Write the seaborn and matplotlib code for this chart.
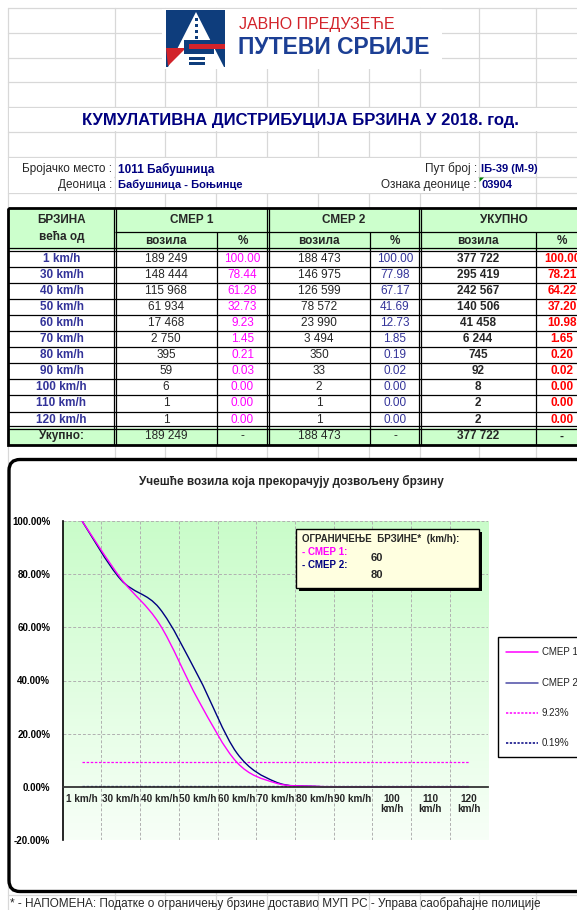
import numpy as np
import pandas as pd
import matplotlib
matplotlib.use("Agg")
import matplotlib.pyplot as plt
import seaborn as sns
from matplotlib.path import Path
from matplotlib.patches import PathPatch, Rectangle, FancyBboxPatch, Polygon

# ---- data read from the sheet ----
speeds = ["1 km/h", "30 km/h", "40 km/h", "50 km/h", "60 km/h", "70 km/h",
          "80 km/h", "90 km/h", "100 km/h", "110 km/h", "120 km/h"]
tick_labels = ["1 km/h", "30 km/h", "40 km/h", "50 km/h", "60 km/h", "70 km/h",
               "80 km/h", "90 km/h", "100\nkm/h", "110\nkm/h", "120\nkm/h"]
smer1_veh = [189249, 148444, 115968, 61934, 17468, 2750, 395, 59, 6, 1, 1]
smer1_pct = [100.00, 78.44, 61.28, 32.73, 9.23, 1.45, 0.21, 0.03, 0.00, 0.00, 0.00]
smer2_veh = [188473, 146975, 126599, 78572, 23990, 3494, 350, 33, 2, 1, 1]
smer2_pct = [100.00, 77.98, 67.17, 41.69, 12.73, 1.85, 0.19, 0.02, 0.00, 0.00, 0.00]
total_veh = [377722, 295419, 242567, 140506, 41458, 6244, 745, 92, 8, 2, 2]
total_pct = [100.00, 78.21, 64.22, 37.20, 10.98, 1.65, 0.20, 0.02, 0.00, 0.00, 0.00]
limit1 = 60
limit2 = 80
ref1 = smer1_pct[speeds.index(f"{limit1} km/h")]
ref2 = smer2_pct[speeds.index(f"{limit2} km/h")]

W, H = 577, 910
FONT = ["Liberation Sans", "DejaVu Sans"]
NAVY = "#000080"
INDIGO = "#333399"
MAGENTA = "#ff00ff"
GREEN = "#ccffcc"

sns.set_style("white")
plt.rcParams["font.family"] = FONT


def fmt(v):
    return f"{v:,}".replace(",", " ")


def smooth_path(ys):
    # excel-style smoothed line (bezier segments through the points)
    pts = np.column_stack([np.arange(len(ys), dtype=float), np.asarray(ys, float)])
    ext = np.vstack([pts[0], pts, pts[-1]])
    verts = [pts[0]]
    codes = [Path.MOVETO]
    for i in range(len(pts) - 1):
        p0, p1, p2, p3 = ext[i], ext[i + 1], ext[i + 2], ext[i + 3]
        verts += [p1 + (p2 - p0) / 6, p2 - (p3 - p1) / 6, p2]
        codes += [Path.CURVE4] * 3
    return Path(verts, codes)


fig = plt.figure(figsize=(W / 100, H / 100), dpi=100)
fig.patch.set_facecolor("white")

# background sheet axes in pixel coords
bg = fig.add_axes([0, 0, 1, 1])
bg.set_xlim(0, W)
bg.set_ylim(H, 0)
bg.axis("off")

grid_c = "#d8d8d8"
rows = [8, 33, 58, 82, 107, 132, 157, 177, 193, 208, 895]
cols = [8, 115, 165, 216, 267, 318, 369, 420, 479, 536]
for y in rows:
    bg.plot([8, W], [y, y], color=grid_c, lw=0.9, zorder=1)
for x in cols:
    bg.plot([x, x], [8, H], color=grid_c, lw=0.9, zorder=1)
# merged cells hide inner grid
bg.add_patch(Rectangle((8.6, 107.6), W, 23.8, fc="white", ec="none", zorder=2))
bg.add_patch(Rectangle((116, 157.6), 362, 35, fc="white", ec="none", zorder=2))
bg.add_patch(Rectangle((8.6, 157.6), 105.8, 35, fc="white", ec="none", zorder=2))
bg.add_patch(Rectangle((116, 178), 362, 14.4, fc="white", ec="none", zorder=2))

# ---- logo ----
bg.add_patch(Rectangle((162, 8.6), 280, 60, fc="white", ec="none", zorder=3))
bg.add_patch(Rectangle((166, 10), 59, 57, fc="#0e3d7c", ec="none", zorder=4))
bg.add_patch(Polygon([[196, 12], [168, 67], [224, 67]], fc="white", ec="none", zorder=5))
bg.add_patch(Polygon([[166, 48], [186, 48], [168, 66]], fc="#d2232a", ec="none", zorder=6))
bg.add_patch(Rectangle((184, 40), 30, 14, fc="#0e3d7c", ec="none", zorder=6))
bg.add_patch(Rectangle((189, 44), 36, 5, fc="#d2232a", ec="none", zorder=7))
for yy in [18, 24, 30, 36]:
    bg.add_patch(Rectangle((194.5, yy), 3, 3, fc="#0e3d7c", ec="none", zorder=6))
for yy in [57, 62]:
    bg.add_patch(Rectangle((189, yy), 16, 2.5, fc="#0e3d7c", ec="none", zorder=6))
bg.text(239, 25, "ЈАВНО ПРЕДУЗЕЋЕ", color="#d2232a", fontsize=11.5,
        va="center", ha="left", zorder=6)
bg.text(238, 48, "ПУТЕВИ СРБИЈЕ", color="#1c3f94", fontsize=16.5, fontweight="bold",
        va="center", ha="left", zorder=6)

# ---- title and header info ----
bg.text(300, 121, "КУМУЛАТИВНА ДИСТРИБУЦИЈА БРЗИНА У 2018. год.", color=NAVY,
        fontsize=12, fontweight="bold", ha="center", va="center", zorder=6)
info_fs = 8.5
bg.text(112, 169, "Бројачко место :", fontsize=info_fs, ha="right", va="center", zorder=6)
bg.text(118, 169, "1011 Бабушница", fontsize=info_fs, color=NAVY, fontweight="bold",
        ha="left", va="center", zorder=6)
bg.text(112, 185, "Деоница :", fontsize=info_fs, ha="right", va="center", zorder=6)
bg.text(118, 185, "Бабушница - Бoњинце".replace("o", "о"), fontsize=8, color=NAVY,
        fontweight="bold", ha="left", va="center", zorder=6)
bg.text(477, 169, "Пут број :", fontsize=info_fs, ha="right", va="center", zorder=6)
bg.text(481, 169, "ІБ-39 (М-9)", fontsize=8, color=NAVY, fontweight="bold",
        ha="left", va="center", zorder=6)
bg.text(477, 185, "Ознака деонице :", fontsize=info_fs, ha="right", va="center", zorder=6)
bg.text(481, 185, "03904", fontsize=8, color=NAVY, fontweight="bold",
        ha="left", va="center", zorder=6)
bg.add_patch(Polygon([[479.5, 177.5], [484, 177.5], [479.5, 182]], fc="#008000",
                     ec="none", zorder=7))

# ---- table ----
tx0, tx1 = 8, 590
ty0, ty_mid, ty_head = 208, 232, 249.5
row_h = 16.1
n = len(speeds)
ty_tot = ty_head + 1 + row_h * n
ty1 = ty_tot + 17.5
bg.add_patch(Rectangle((tx0, ty0), tx1 - tx0, ty1 - ty0, fc="white", ec="none", zorder=3))
bg.add_patch(Rectangle((tx0, ty0), tx1 - tx0, ty_head - ty0, fc=GREEN, ec="none", zorder=3))
bg.add_patch(Rectangle((tx0, ty_tot), tx1 - tx0, ty1 - ty_tot, fc=GREEN, ec="none", zorder=3))

lk = dict(color="black", zorder=5, solid_capstyle="butt")
for x in [217, 370, 536]:
    bg.plot([x, x], [ty_mid, ty1], lw=0.9, **lk)
for x in [115, 268, 420]:
    for d in (-1.4, 1.4):
        bg.plot([x + d, x + d], [ty0, ty1], lw=0.9, **lk)
bg.plot([115, tx1], [ty_mid, ty_mid], lw=0.9, **lk)
for y in (ty_head - 1.2, ty_head + 1.2, ty_tot - 1.2, ty_tot + 1.2):
    bg.plot([tx0, tx1], [y, y], lw=0.9, **lk)
for k in range(1, n):
    y = ty_head + 1 + row_h * k
    bg.plot([tx0, tx1], [y, y], lw=0.9, **lk)
bg.add_patch(Rectangle((tx0, ty0), tx1 - tx0, ty1 - ty0, fc="none", ec="black",
                       lw=2, zorder=6))

cx = [61.5, 166, 242.5, 319, 395, 478, 562]
tfs = 8.5
tk = dict(ha="center", va="center", fontsize=tfs, zorder=7)
bg.text(cx[0], 220, "БРЗИНА", fontweight="bold", **tk)
bg.text(cx[0], 237, "већа од", fontweight="bold", **tk)
bg.text(191.5, 220, "СМЕР 1", fontweight="bold", **tk)
bg.text(344, 220, "СМЕР 2", fontweight="bold", **tk)
bg.text(504, 220, "УКУПНО", fontweight="bold", **tk)
for c, lab in zip(cx[1:], ["возила", "%"] * 3):
    bg.text(c, 240.5, lab, fontweight="bold", **tk)

for i in range(n):
    y = ty_head + 1 + row_h * (i + 0.5)
    bg.text(cx[0], y, speeds[i], color=INDIGO, fontweight="bold", **tk)
    bg.text(cx[1], y, fmt(smer1_veh[i]), **tk)
    bg.text(cx[2], y, f"{smer1_pct[i]:.2f}", color=MAGENTA, **tk)
    bg.text(cx[3], y, fmt(smer2_veh[i]), **tk)
    bg.text(cx[4], y, f"{smer2_pct[i]:.2f}", color=INDIGO, **tk)
    bg.text(cx[5], y, fmt(total_veh[i]), fontweight="bold", **tk)
    bg.text(cx[6], y, f"{total_pct[i]:.2f}", color="red", fontweight="bold", **tk)
yt = (ty_tot + ty1) / 2
bg.text(cx[0], yt, "Укупно:", fontweight="bold", **tk)
bg.text(cx[1], yt, fmt(smer1_veh[0]), **tk)
bg.text(cx[2], yt, "-", **tk)
bg.text(cx[3], yt, fmt(smer2_veh[0]), **tk)
bg.text(cx[4], yt, "-", **tk)
bg.text(cx[5], yt, fmt(total_veh[0]), fontweight="bold", **tk)
bg.text(cx[6], yt, "-", fontweight="bold", **tk)

# ---- chart frame ----
bg.add_patch(FancyBboxPatch((9, 459.5), 620, 432, boxstyle="round,pad=0,rounding_size=11",
                            fc="white", ec="black", lw=2.4, zorder=3))
bg.text(291, 481, "Учешће возила која прекорачују дозвољену брзину", fontsize=8.5,
        fontweight="bold", ha="center", va="center", zorder=6)
bg.text(10, 904, "* - НАПОМЕНА: Податке о ограничењу брзине доставио МУП РС - "
        "Управа саобраћајне полиције", fontsize=8.5, ha="left", va="center", zorder=6)

# ---- chart axes ----
px0, px1, py0, py1 = 62.7, 488.4, 521, 840
ax = fig.add_axes([px0 / W, 1 - py1 / H, (px1 - px0) / W, (py1 - py0) / H])
ax.set_xlim(-0.5, n - 0.5)
ax.set_ylim(-20, 100)
top = np.array([0.79, 0.99, 0.79])
bot = np.array([0.97, 1.0, 0.97])
t = np.linspace(0, 1, 256)[:, None]
grad = (top * (1 - t) + bot * t)[:, None, :]
ax.imshow(grad, extent=(-0.5, n - 0.5, -20, 100), aspect="auto", zorder=0,
          interpolation="bilinear")
ax.set_facecolor("none")

gk = dict(color="#b0b0b0", lw=0.7, linestyle=(0, (3, 2)), zorder=1)
for v in [-20, 20, 40, 60, 80, 100]:
    ax.plot([-0.5, n - 0.5], [v, v], **gk)
for k in range(n):
    ax.plot([k + 0.5, k + 0.5], [-20, 100], **gk)

ref_df = pd.DataFrame({"x": np.arange(n), "smer1": [ref1] * n, "smer2": [ref2] * n})
sns.lineplot(data=ref_df, x="x", y="smer1", ax=ax, color=MAGENTA, lw=0.9,
             linestyle=(0, (2, 1.3)), zorder=3)
sns.lineplot(data=ref_df, x="x", y="smer2", ax=ax, color=NAVY, lw=0.9,
             linestyle=(0, (2, 1.3)), zorder=3)
ax.add_patch(PathPatch(smooth_path(smer2_pct), fc="none", ec=NAVY, lw=1.0, zorder=4))
ax.add_patch(PathPatch(smooth_path(smer1_pct), fc="none", ec=MAGENTA, lw=1.0, zorder=4))

ax.set_xlabel("")
ax.set_ylabel("")
for s in ["top", "right"]:
    ax.spines[s].set_visible(False)
ax.spines["left"].set_color("black")
ax.spines["left"].set_linewidth(1.2)
ax.spines["bottom"].set_position(("data", 0))
ax.spines["bottom"].set_color("#333333")
ax.spines["bottom"].set_linewidth(1.3)
ax.spines["bottom"].set_zorder(5)

ax.set_yticks(np.arange(-20, 101, 20))
ax.set_yticklabels([f"{v:.2f}%" for v in np.arange(-20, 101, 20)],
                   fontsize=7, fontweight="bold")
ax.tick_params(axis="y", direction="out", length=3, width=1, pad=6, colors="black")
ax.set_xticks(np.arange(n))
ax.set_xticklabels(tick_labels, fontsize=7.2, fontweight="bold", linespacing=1.05)
ax.set_xticks(np.arange(n) + 0.5, minor=True)
ax.tick_params(axis="x", which="major", length=0, pad=5)
ax.tick_params(axis="x", which="minor", direction="out", length=3, width=1, color="#333333")

# ---- overlays: limits box and legend ----
fg = fig.add_axes([0, 0, 1, 1])
fg.set_xlim(0, W)
fg.set_ylim(H, 0)
fg.axis("off")
fg.patch.set_alpha(0)

fg.add_patch(Rectangle((299, 532), 183, 59, fc="black", ec="none", zorder=2))
fg.add_patch(Rectangle((296, 529), 183, 59, fc="#ffffe0", ec="black", lw=1, zorder=3))
fg.text(302, 539, "ОГРАНИЧЕЊЕ  БРЗИНЕ*  (km/h):", fontsize=7, fontweight="bold",
        ha="left", va="center", zorder=4)
fg.text(302, 552, "- СМЕР 1:", fontsize=7, fontweight="bold", color=MAGENTA,
        ha="left", va="center", zorder=4)
fg.text(302, 565, "- СМЕР 2:", fontsize=7, fontweight="bold", color=NAVY,
        ha="left", va="center", zorder=4)
fg.text(371, 558, str(limit1), fontsize=8, fontweight="bold", ha="left", va="center", zorder=4)
fg.text(371, 574.5, str(limit2), fontsize=8, fontweight="bold", ha="left", va="center", zorder=4)

fg.add_patch(Rectangle((498, 636.5), 110, 120.5, fc="white", ec="black", lw=1, zorder=3))
leg = [("СМЕР 1", MAGENTA, "-", 652), ("СМЕР 2", "#4b4ba5", "-", 683),
       (f"{ref1:.2f}%", MAGENTA, (0, (1.5, 1)), 713), (f"{ref2:.2f}%", NAVY, (0, (1.5, 1)), 743)]
for lab, col, ls, y in leg:
    fg.plot([506, 538], [y, y], color=col, lw=1.1, linestyle=ls, zorder=4)
    fg.text(542, y, lab, fontsize=7, ha="left", va="center", color="#222222", zorder=4)

fig.savefig("out.png", dpi=100)
